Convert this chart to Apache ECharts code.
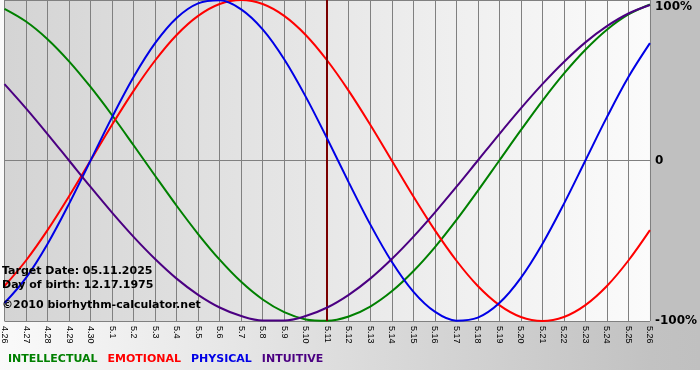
<!DOCTYPE html>
<html>
<head>
<meta charset="utf-8">
<script src="https://cdn.jsdelivr.net/npm/echarts@6/dist/echarts.min.js"></script>
<style>html,body{margin:0;padding:0;background:#fff}#c{width:700px;height:380px}</style>
</head>
<body>
<div id="c"></div>
<script>
const dates = ['4.26','4.27','4.28','4.29','4.30','5.1','5.2','5.3','5.4','5.5','5.6','5.7','5.8','5.9','5.10','5.11','5.12','5.13','5.14','5.15','5.16','5.17','5.18','5.19','5.20','5.21','5.22','5.23','5.24','5.25','5.26'];
const intellectual = [94.5,86.6,75.6,61.8,45.8,28.2,9.5,-9.5,-28.2,-45.8,-61.8,-75.6,-86.6,-94.5,-99.0,-99.9,-97.2,-91.0,-81.5,-69.0,-54.1,-37.2,-18.9,0,18.9,37.2,54.1,69.0,81.5,91.0,97.2];
const emotional = [-78.2,-62.3,-43.4,-22.3,0,22.3,43.4,62.3,78.2,90.1,97.5,100,97.5,90.1,78.2,62.3,43.4,22.3,0,-22.3,-43.4,-62.3,-78.2,-90.1,-97.5,-100,-97.5,-90.1,-78.2,-62.3,-43.4];
const physical = [-88.8,-73.1,-52.0,-27.0,0,27.0,52.0,73.1,88.8,97.9,99.8,94.2,81.7,63.1,39.8,13.6,-13.6,-39.8,-63.1,-81.7,-94.2,-99.8,-97.9,-88.8,-73.1,-52.0,-27.0,0,27.0,52.0,73.1];
const intuitive = [47.6,32.5,16.5,0,-16.5,-32.5,-47.6,-61.4,-73.6,-83.7,-91.6,-96.9,-99.7,-99.7,-96.9,-91.6,-83.7,-73.6,-61.4,-47.6,-32.5,-16.5,0,16.5,32.5,47.6,61.4,73.6,83.7,91.6,96.9];
const seriesNames = ['INTELLECTUAL','EMOTIONAL','PHYSICAL','INTUITIVE'];
const seriesColors = ['#008000','#ff0000','#0000e6','#4b0082'];
const targetDay = '5.11';
const infoLines = ['Target Date: 05.11.2025','Day of birth: 12.17.1975','\u00a92010 biorhythm-calculator.net'];
const yTicks = {100:'100%',0:'0','-100':'-100%'};

const chart = echarts.init(document.getElementById('c'), null, {renderer:'canvas'});
const FONT = "'DejaVu Sans', Verdana, sans-serif";
const values = [intellectual, emotional, physical, intuitive];

const series = seriesNames.map((n,i)=>({
  name:n, type:'line', data:values[i], smooth:0.35, showSymbol:false,
  lineStyle:{color:seriesColors[i], width:2}, itemStyle:{color:seriesColors[i]},
  animation:false, z:3+i
}));
series[0].markLine = {
  symbol:'none', silent:true, label:{show:false}, animation:false,
  lineStyle:{color:'#7a0000', width:2, type:'solid'},
  data:[{xAxis:targetDay}]
};

chart.setOption({
  animation:false,
  backgroundColor:{type:'linear',x:0,y:0,x2:1,y2:0,colorStops:[{offset:0,color:'#fafafa'},{offset:0.93,color:'#c2c2c2'},{offset:1,color:'#c0c0c0'}]},
  graphic:[
    {type:'rect', z:-10, silent:true, shape:{x:651,y:0,width:49,height:321}, style:{fill:'#c0c0c0'}},
    {type:'rect', z:-10, silent:true, shape:{x:0,y:370,width:700,height:10}, style:{fill:'#ffffff'}},
    ...infoLines.map((t,i)=>({type:'text', z:50, silent:true, left:2, top:[266,280,300][i],
      style:{text:t, fill:'#000', font:"bold 11px "+FONT}}))
  ],
  grid:{left:0, right:49, top:0, bottom:59, show:true, borderWidth:0,
    backgroundColor:{type:'linear',x:0,y:0,x2:1,y2:0,colorStops:[{offset:0,color:'#d4d4d4'},{offset:1,color:'#fbfbfb'}]}},
  legend:{
    left:3, top:354, padding:0, itemWidth:0, itemHeight:0, itemGap:5, icon:'none', selectedMode:false,
    data:seriesNames.map((n,i)=>({name:n, textStyle:{color:seriesColors[i]}})),
    textStyle:{fontFamily:FONT, fontWeight:'bold', fontSize:11}
  },
  xAxis:{
    type:'category', data:dates, boundaryGap:false,
    axisLine:{lineStyle:{color:'#808080', width:1}},
    axisTick:{show:true, length:4, lineStyle:{color:'#808080'}},
    splitLine:{show:true, lineStyle:{color:'#808080', width:1}},
    axisLabel:{rotate:-90, fontSize:9, color:'#000', fontFamily:"'Liberation Sans', Arial, sans-serif", margin:5, interval:0}
  },
  yAxis:{
    type:'value', position:'right', min:-100, max:100, interval:100,
    axisLine:{show:false}, axisTick:{show:false},
    splitLine:{show:true, lineStyle:{color:'#808080', width:1}},
    axisLabel:{
      margin:5, color:'#000', fontWeight:'bold', fontSize:12, fontFamily:FONT,
      formatter:v=> v===100 ? '{t|'+yTicks[v]+'}' : yTicks[v],
      rich:{t:{padding:[13,0,0,0], fontWeight:'bold', fontSize:12, fontFamily:FONT, color:'#000'}}
    }
  },
  series:series
});
</script>
</body>
</html>
